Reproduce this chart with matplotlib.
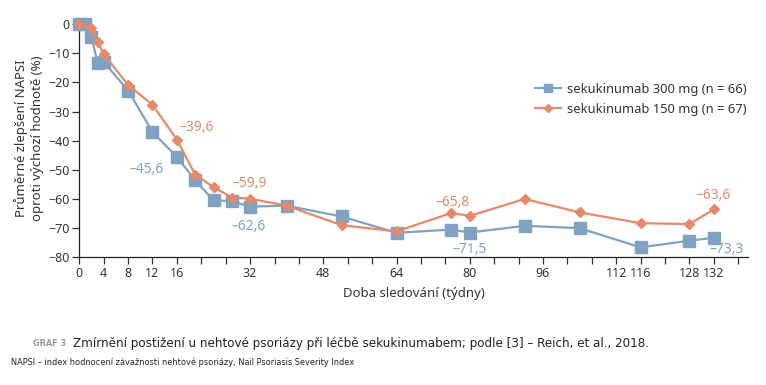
import numpy as np
import matplotlib
matplotlib.use('Agg')
import matplotlib.pyplot as plt

plt.rcParams['font.family'] = ['Noto Sans', 'DejaVu Sans']

# data (weeks, mean NAPSI change in %)
weeks_300 = [0, 1, 2, 3, 4, 8, 12, 16, 20, 24, 28, 32, 40, 52, 64, 76, 80, 92, 104, 116, 128, 132]
napsi_300 = [0, 0, -4.5, -13.2, -13.0, -22.8, -37.0, -45.6, -53.6, -60.4, -60.8, -62.6, -62.3,
             -66.0, -71.6, -70.5, -71.5, -69.2, -70.0, -76.6, -74.3, -73.3]
weeks_150 = [0, 2, 3, 4, 8, 12, 16, 20, 24, 28, 32, 40, 52, 64, 76, 80, 92, 104, 116, 128, 132]
napsi_150 = [0, -1.5, -6.0, -10.3, -20.9, -27.7, -39.6, -51.7, -55.9, -59.5, -59.9, -62.3,
             -69.0, -71.1, -64.8, -65.8, -60.0, -64.6, -68.3, -68.6, -63.6]
label_weeks = [0, 4, 8, 12, 16, 32, 48, 64, 80, 96, 112, 116, 128, 132]

BLUE = '#7fa2c3'
ORANGE = '#e6896b'
GREY = '#333333'

# the x axis of the original is stretched piecewise (even tick spacing, uneven weeks)
knot_w = [0, 16, 112, 116, 128, 132, 140]
knot_p = [0, 4, 22, 23, 25, 26, 28]
fwd = lambda x: np.interp(x, knot_w, knot_p)
inv = lambda p: np.interp(p, knot_p, knot_w)

fig = plt.figure(figsize=(7.66, 3.85), dpi=100)
ax = fig.add_axes([0.1035, 0.3317, 0.873, 0.621])
ax.set_xscale('function', functions=(fwd, inv))

ax.plot(weeks_300, napsi_300, color=BLUE, lw=1.6, marker='s', ms=8.5,
        label='sekukinumab 300 mg (n = 66)', clip_on=False, zorder=3)
ax.plot(weeks_150, napsi_150, color=ORANGE, lw=1.6, marker='D', ms=5.5,
        label='sekukinumab 150 mg (n = 67)', clip_on=False, zorder=4)

ax.set_xlim(0, 137.6)
ax.set_ylim(-80, 2)

tick_weeks = inv(np.arange(28))
ax.set_xticks(tick_weeks)
ax.set_xticklabels([str(int(round(w))) if int(round(w)) in label_weeks and abs(w - round(w)) < 0.01 else ''
                    for w in tick_weeks])
ax.xaxis.set_minor_locator(plt.NullLocator())
ax.set_yticks(range(-80, 1, 10))
ax.tick_params(axis='both', labelsize=9, colors=GREY, length=5, width=0.9, pad=2)

for s in ['top', 'right']:
    ax.spines[s].set_visible(False)
for s in ['left', 'bottom']:
    ax.spines[s].set_color('#222222')
    ax.spines[s].set_linewidth(0.9)

ax.set_xlabel('Doba sledování (týdny)', fontsize=9.5, color=GREY, labelpad=5)
ax.set_ylabel('Průměrné zlepšení NAPSI\noproti výchozí hodnotě (%)', fontsize=9.5,
              color=GREY, labelpad=3, linespacing=1.3)

# value labels
notes = [
    (weeks_300, napsi_300, 16, BLUE, (-21.6, -9.1)),
    (weeks_150, napsi_150, 16, ORANGE, (14, 8.9)),
    (weeks_150, napsi_150, 32, ORANGE, (0, 10.6)),
    (weeks_300, napsi_300, 32, BLUE, (-1.2, -14)),
    (weeks_150, napsi_150, 80, ORANGE, (-12, 9.6)),
    (weeks_300, napsi_300, 80, BLUE, (0, -12.2)),
    (weeks_150, napsi_150, 132, ORANGE, (0, 10.3)),
    (weeks_300, napsi_300, 132, BLUE, (9, -8.4)),
]
for ws, vs, w, c, off in notes:
    v = vs[ws.index(w)]
    ax.annotate(('%.1f' % v).replace('.', ',').replace('-', '\u2013'), xy=(w, v),
                xytext=off, textcoords='offset points', ha='center', va='center',
                fontsize=10, color=c, annotation_clip=False)

ax.legend(loc='upper right', bbox_to_anchor=(1.006, 0.752), frameon=False, fontsize=9.3,
          handlelength=2.0, handletextpad=0.5, labelspacing=0.55, labelcolor=GREY,
          borderaxespad=0, markerscale=0.75)

# caption
cap = dict(family='DejaVu Sans', fontstretch='condensed', color='#222222', va='center')
fig.text(0.043, 0.108, 'GRAF 3', fontsize=6.5, color='#9a9a9a', fontweight='bold',
         family='DejaVu Sans', fontstretch='condensed', va='center')
t1 = fig.text(0.095, 0.108, 'Zmírnění postižení u nehtové psoriázy při léčbě sekukinumabem; podle [3] – Reich, et al., 2018.',
              fontsize=10.5, **cap)
fig.text(0.014, 0.058, 'NAPSI – index hodnocení závažnosti nehtové psoriázy, Nail Psoriasis Severity Index',
         fontsize=6.6, **cap)
# squeeze the main caption line to the width it takes in the original
r = fig.canvas.get_renderer()
t1.set_fontsize(t1.get_fontsize() * 582 / t1.get_window_extent(r).width)

fig.savefig('out.png', dpi=100)
